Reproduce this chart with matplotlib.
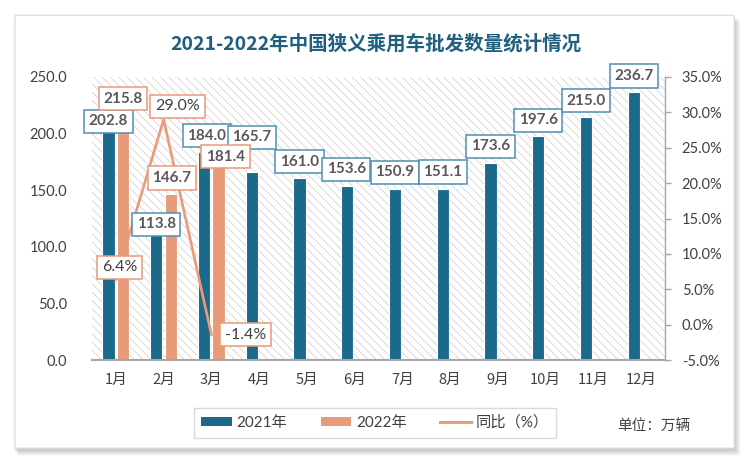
import matplotlib
matplotlib.use("Agg")
import matplotlib.pyplot as plt
import numpy as np
from matplotlib.patches import FancyBboxPatch, Rectangle, Patch
from matplotlib.lines import Line2D
from matplotlib.ticker import FuncFormatter, MultipleLocator

months = ["1月", "2月", "3月", "4月", "5月", "6月", "7月", "8月", "9月", "10月", "11月", "12月"]
sales_2021 = [202.8, 113.8, 184.0, 165.7, 161.0, 153.6, 150.9, 151.1, 173.6, 197.6, 215.0, 236.7]
sales_2022 = [215.8, 146.7, 181.4]
yoy_pct = [6.4, 29.0, -1.4]

# label nudges in pixels (dx, dy)
off_2021 = [(0, 9), (0, 7), (3, 16), (0, 35), (0, 16), (-1, 17), (0, 17), (0, 17), (0, 17), (0, 16), (0, 16), (0, 16)]
off_2022 = [(0, 17), (1, 16), (7, -2)]
off_pct = [(4, 12), (14, 13), (34, 0)]

BLUE = "#1b6a8c"
SALMON = "#e99a78"
BLUE_EDGE = "#4f8fb2"
TXT = "#404040"
NUM_FONT = ["Lato", "Noto Sans CJK SC", "DejaVu Sans"]
CJK_FONT = ["Noto Sans CJK SC", "DejaVu Sans"]

plt.rcParams["hatch.linewidth"] = 0.5

fig = plt.figure(figsize=(7.5, 4.61), dpi=100)
fig.patch.set_facecolor("white")

# card with soft shadow
for i, a in enumerate([0.05, 0.05, 0.05, 0.05]):
    fig.patches.append(FancyBboxPatch((0.022 + 0.002 * i, 0.025 - 0.003 * i), 0.955, 0.935,
                                      boxstyle="round,pad=0.004", transform=fig.transFigure,
                                      facecolor="black", edgecolor="none", alpha=a, zorder=0))
fig.patches.append(FancyBboxPatch((0.022, 0.03), 0.955, 0.935, boxstyle="round,pad=0.002",
                                  transform=fig.transFigure, facecolor="white",
                                  edgecolor="#d9d9d9", lw=0.8, zorder=1))

ax = fig.add_axes([0.1227, 0.219, 0.764, 0.614])
ax.set_zorder(2)
ax.patch.set_alpha(0)
bg = Rectangle((0, 0), 1, 1, transform=ax.transAxes, facecolor="white", edgecolor="#cccccc",
               hatch="\\\\\\\\", lw=0, zorder=0)
ax.add_patch(bg)

x = np.arange(len(months))
w = 0.26
ax.bar(x - 0.155, sales_2021, w, color=BLUE, edgecolor="white", lw=0.8, zorder=2)
x2 = x[:len(sales_2022)]
ax.bar(x2 + 0.15, sales_2022, w, color=SALMON, edgecolor="white", lw=0.8, zorder=2)

ax.set_xlim(-0.5, len(months) - 0.5)
ax.set_ylim(0, 250)
ax.yaxis.set_major_locator(MultipleLocator(50))
ax.yaxis.set_major_formatter(FuncFormatter(lambda v, p: f"{v:.1f}"))
ax.set_xticks(x)
ax.set_xticklabels(months, fontfamily=CJK_FONT)
for s in ["top", "left", "right"]:
    ax.spines[s].set_visible(False)
ax.spines["bottom"].set_color("#a6a6a6")
ax.spines["bottom"].set_linewidth(1.5)
ax.tick_params(axis="both", length=0, labelsize=10.5, colors=TXT)
ax.tick_params(axis="x", pad=9)
ax.tick_params(axis="y", pad=18)
for t in ax.get_yticklabels():
    t.set_fontfamily(NUM_FONT)

ax2 = ax.twinx()
ax2.set_zorder(3)
ax2.set_ylim(-5, 35)
ax2.yaxis.set_major_locator(MultipleLocator(5))
ax2.yaxis.set_major_formatter(FuncFormatter(lambda v, p: f"{v:.1f}%"))
for s in ["top", "left", "bottom"]:
    ax2.spines[s].set_visible(False)
ax2.spines["right"].set_color("#a6a6a6")
ax2.spines["right"].set_linewidth(1.0)
ax2.tick_params(axis="y", length=4, width=1.0, color="#a6a6a6", labelsize=10.5,
                labelcolor=TXT, pad=8)
for t in ax2.get_yticklabels():
    t.set_fontfamily(NUM_FONT)

ax2.plot(x2, yoy_pct, color=SALMON, lw=1.9, zorder=3)

# all labels sit on ax2 so they cover the line
for i, v in enumerate(sales_2021):
    dx, dy = off_2021[i]
    ax2.annotate(f"{v:.1f}", (x[i] - 0.155, v), xycoords=ax.transData, xytext=(dx, dy),
                 textcoords="offset pixels", ha="center", va="center", fontsize=11,
                 fontweight="bold", color="#595959", fontfamily=NUM_FONT, zorder=5,
                 annotation_clip=False,
                 bbox=dict(boxstyle="square,pad=0.3", fc="white", ec=BLUE_EDGE, lw=1.1))
for i, v in enumerate(sales_2022):
    dx, dy = off_2022[i]
    ax2.annotate(f"{v:.1f}", (x2[i] + 0.15, v), xycoords=ax.transData, xytext=(dx, dy),
                 textcoords="offset pixels", ha="center", va="center", fontsize=11,
                 fontweight="bold", color="#595959", fontfamily=NUM_FONT, zorder=5,
                 annotation_clip=False,
                 bbox=dict(boxstyle="square,pad=0.3", fc="white", ec=SALMON, lw=1.1))
for i, v in enumerate(yoy_pct):
    dx, dy = off_pct[i]
    ax2.annotate(f"{v:.1f}%", (x2[i], v), xytext=(dx, dy), textcoords="offset pixels",
                 ha="center", va="center", fontsize=11.5, color=TXT,
                 fontfamily=NUM_FONT, zorder=6, annotation_clip=False,
                 bbox=dict(boxstyle="square,pad=0.3", fc="white", ec=SALMON, lw=1.1))

fig.text(0.501, 0.905, "2021-2022年中国狭义乘用车批发数量统计情况", ha="center", va="center",
         fontsize=14, fontweight="bold", color="#1f5f80", fontfamily=CJK_FONT)

handles = [Patch(facecolor=BLUE, edgecolor="none"), Patch(facecolor=SALMON, edgecolor="none"),
           Line2D([0], [0], color=SALMON, lw=2.2)]
leg = fig.legend(handles, ["2021年", "2022年", "同比（%）"], loc="center",
                 bbox_to_anchor=(0.5, 0.083), ncol=3, frameon=True, fancybox=False,
                 prop={"family": NUM_FONT, "size": 11}, handlelength=2.0, handleheight=0.45,
                 columnspacing=2.2, handletextpad=0.3, borderpad=0.5, borderaxespad=0,
                 edgecolor="#d0d0d0")
leg.get_frame().set_linewidth(1.0)
for t in leg.get_texts():
    t.set_color(TXT)

fig.text(0.871, 0.075, "单位：万辆", ha="center", va="center", fontsize=10.5, color=TXT,
         fontfamily=CJK_FONT)

fig.savefig("out.png", dpi=100)
